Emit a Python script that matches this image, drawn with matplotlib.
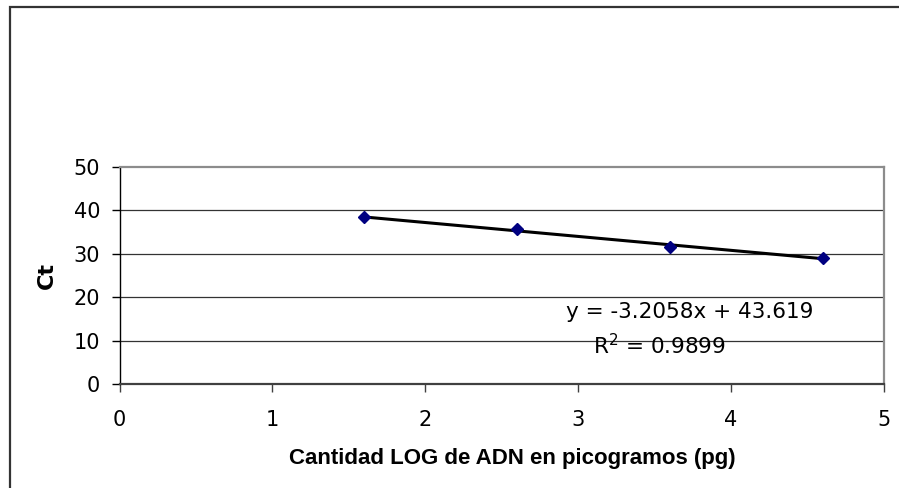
import numpy as np
import matplotlib
matplotlib.use('Agg')
import matplotlib.pyplot as plt
from matplotlib.patches import Rectangle

# standard curve: log DNA amount vs Ct
log_adn = [1.6, 2.6, 3.6, 4.6]
ct = [38.45, 35.65, 31.55, 29.07]

# linear trendline as reported
slope = -3.2058
intercept = 43.619
r2 = 0.9899

fig = plt.figure(figsize=(8.99, 4.88), dpi=100)
ax = fig.add_axes([119.5/899, 104/488, 764.5/899, 217/488])

# outer chart frame
fig.patches.append(Rectangle((9.5/899, -0.1), 1.2, 1.1 - 7/488, transform=fig.transFigure,
                             fill=False, edgecolor='#333333', linewidth=1.6))

ax.set_xlim(0, 5)
ax.set_ylim(0, 50)
ax.set_xticks(np.arange(0, 6, 1))
ax.set_yticks(np.arange(0, 60, 10))

for yv in [10, 20, 30, 40]:
    ax.axhline(yv, color='#333333', linewidth=0.9, zorder=1)

xfit = np.array([log_adn[0], log_adn[-1]])
ax.plot(xfit, slope*xfit + intercept, color='black', linewidth=2.2, zorder=3)
ax.plot(log_adn, ct, linestyle='none', marker='D', color='#000080', markersize=6, zorder=4)

ax.spines['left'].set_color('black')
ax.spines['left'].set_linewidth(1.0)
ax.spines['bottom'].set_color('#404040')
ax.spines['bottom'].set_linewidth(1.6)
ax.spines['top'].set_color('#8c8c8c')
ax.spines['top'].set_linewidth(1.6)
ax.spines['right'].set_color('#8c8c8c')
ax.spines['right'].set_linewidth(1.6)

ax.tick_params(axis='y', direction='out', length=6, width=1, color='black', pad=8, labelsize=15)
ax.tick_params(axis='x', direction='out', length=6, width=1, color='#404040', pad=13, labelsize=15)

ax.set_ylabel('Ct', fontsize=16, fontweight='bold', labelpad=12)
ax.set_xlabel('Cantidad LOG de ADN en picogramos (pg)', fontsize=16, fontweight='bold',
              family='Liberation Sans')
ax.xaxis.set_label_coords(0.514, -0.295)

ax.text(3.73, 16.6, 'y = %.4fx + %.3f' % (slope, intercept), fontsize=15.5, ha='center', va='center')
ax.text(3.53, 8.8, 'R$^2$ = %.4f' % r2, fontsize=15.5, ha='center', va='center')

fig.savefig('out.png', dpi=100)
